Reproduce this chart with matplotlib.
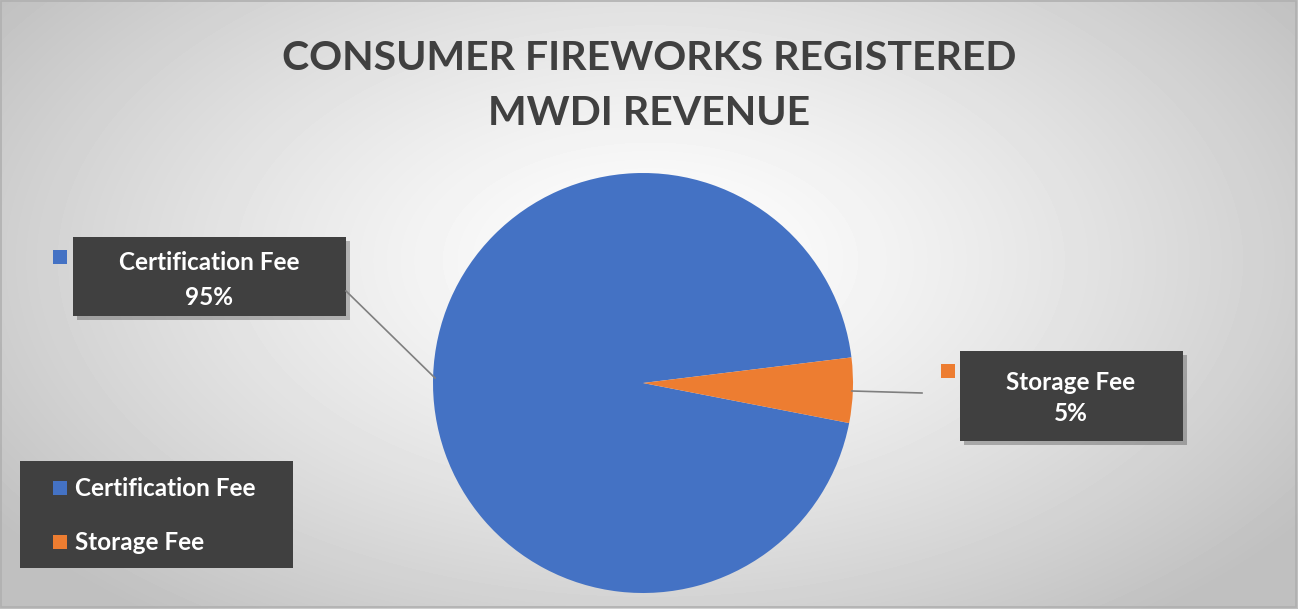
import matplotlib.pyplot as plt
import numpy as np
from matplotlib.patches import Rectangle
from matplotlib.lines import Line2D

labels = ['Certification Fee', 'Storage Fee']
values = [95, 5]
colors = ['#4472C4', '#ED7D31']
title = 'CONSUMER FIREWORKS REGISTERED\nMWDI REVENUE'

W, H = 1298, 609
plt.rcParams['font.family'] = ['Lato', 'DejaVu Sans']

fig = plt.figure(figsize=(W / 100, H / 100), dpi=100)


def fx(x):
    return x / W


def fy(y):
    return 1 - y / H


# radial gradient background
bg = fig.add_axes([0, 0, 1, 1])
yy, xx = np.mgrid[0:H, 0:W]
r = np.sqrt(((xx - 650) / (W * 0.62)) ** 2 + ((yy - 260) / (H * 0.75)) ** 2)
r = np.clip(r, 0, 1)
shade = 1.0 - 0.25 * r ** 1.3
bg.imshow(shade, cmap='gray', vmin=0, vmax=1, extent=[0, W, H, 0], aspect='auto')
bg.set_xlim(0, W)
bg.set_ylim(H, 0)
bg.axis('off')
fig.patches.append(Rectangle((fx(1), fy(607)), fx(1295), 606 / H, transform=fig.transFigure,
                             fill=False, ec='#b0b0b0', lw=1.2))

fig.text(0.5, fy(86), title, ha='center', va='center', fontsize=29.5, fontweight='bold',
         color='#404040', linespacing=1.6)

# pie
cx, cy, rad = 643, 383, 210
ax = fig.add_axes([fx(cx - rad), fy(cy + rad), 2 * rad / W, 2 * rad / H])
ax.pie(values, colors=colors, startangle=-11, counterclock=False, radius=1,
       wedgeprops=dict(linewidth=0))
ax.set_xlim(-1, 1)
ax.set_ylim(-1, 1)
ax.set_aspect('auto')
ax.axis('off')


def box(x0, y0, x1, y1, shadow=True):
    # shadow then box, pixel coords
    if shadow:
        fig.patches.append(Rectangle((fx(x0 + 4), fy(y1 + 4)), (x1 - x0) / W, (y1 - y0) / H,
                                     transform=fig.transFigure, fc='#000000', alpha=0.25, ec='none'))
    fig.patches.append(Rectangle((fx(x0), fy(y1)), (x1 - x0) / W, (y1 - y0) / H,
                                 transform=fig.transFigure, fc='#404040', ec='none'))


def marker(x, y, c):
    fig.patches.append(Rectangle((fx(x), fy(y + 14)), 14 / W, 14 / H,
                                 transform=fig.transFigure, fc=c, ec='none'))


# leader lines
fig.lines.append(Line2D([fx(346), fx(435)], [fy(291), fy(378)], transform=fig.transFigure,
                        color='#7f7f7f', lw=1.2))
fig.lines.append(Line2D([fx(852), fx(922)], [fy(391), fy(393)], transform=fig.transFigure,
                        color='#7f7f7f', lw=1.2))

# data labels
box(73, 237, 346, 316)
marker(53, 250, colors[0])
fig.text(fx(209), fy(280), labels[0] + '\n' + str(values[0]) + '%', ha='center', va='center',
         fontsize=17.5, fontweight='bold', color='white', linespacing=1.6)

box(960, 351, 1183, 441)
marker(941, 364, colors[1])
fig.text(fx(1071), fy(398), labels[1] + '\n' + str(values[1]) + '%', ha='center', va='center',
         fontsize=17.5, fontweight='bold', color='white', linespacing=1.45)

# legend
box(20, 461, 293, 568, shadow=False)
for i, yl in enumerate([488, 542]):
    marker(53, yl - 7, colors[i])
    fig.text(fx(75), fy(yl), labels[i], ha='left', va='center', fontsize=17.5,
             fontweight='bold', color='white')

fig.savefig('out.png', dpi=100)
